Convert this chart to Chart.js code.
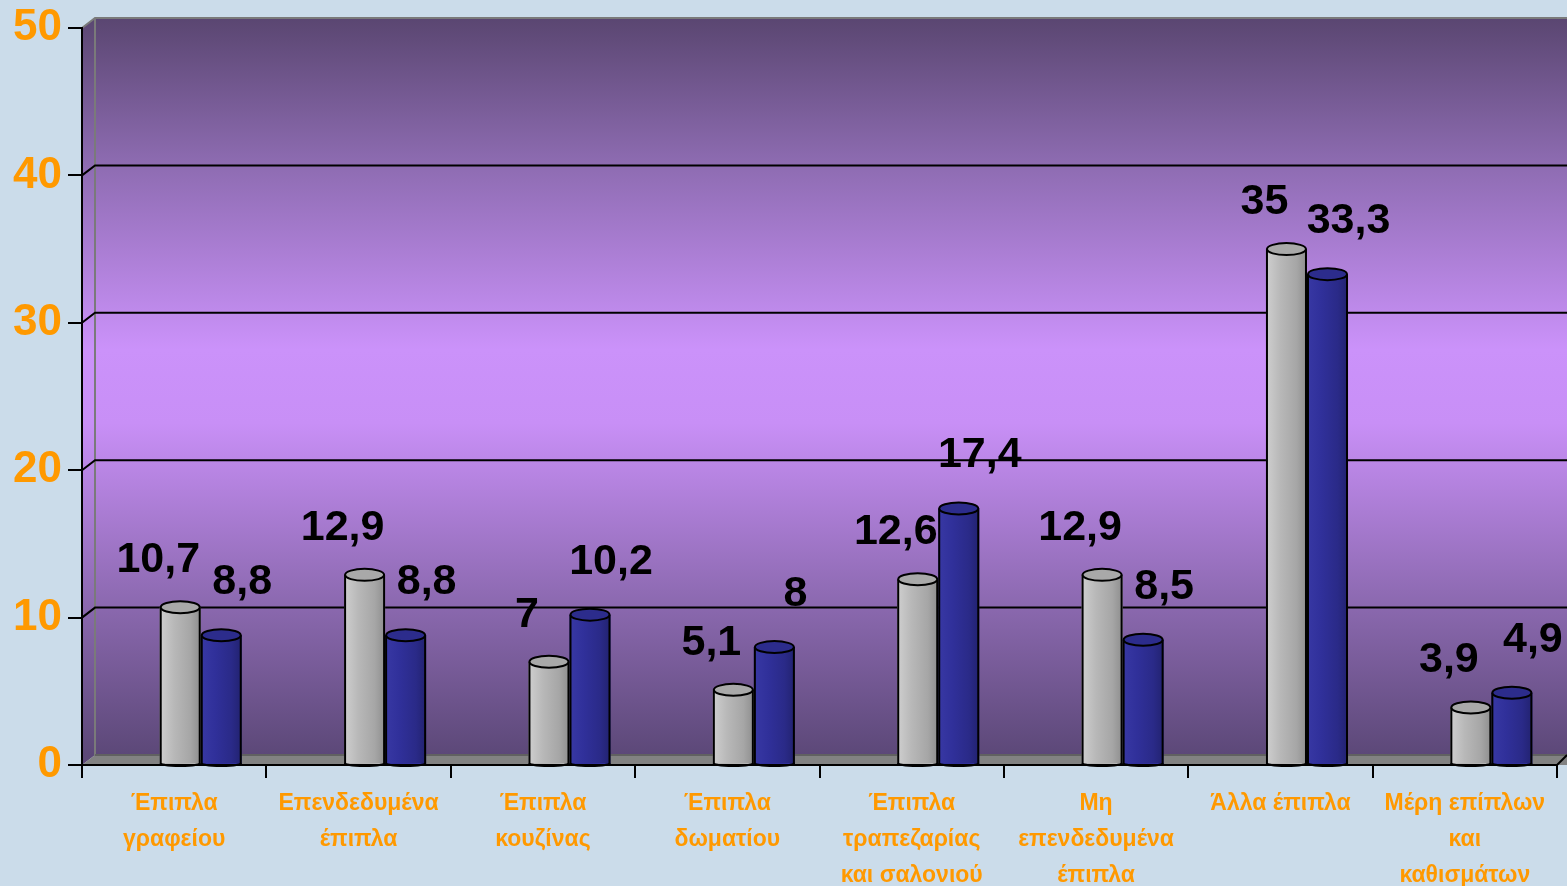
<!DOCTYPE html>
<html>
<head>
<meta charset="utf-8">
<script src="https://cdn.jsdelivr.net/npm/chart.js@4.4.1/dist/chart.umd.min.js"></script>
<style>
  html, body { margin: 0; padding: 0; background: #cbdcea; }
  #wrap { width: 1567px; height: 886px; }
</style>
</head>
<body>
<div id="wrap"><canvas id="c" width="1567" height="886"></canvas></div>
<script>
const categories = [
  ["Έπιπλα", "γραφείου"],
  ["Επενδεδυμένα", "έπιπλα"],
  ["Έπιπλα", "κουζίνας"],
  ["Έπιπλα", "δωματίου"],
  ["Έπιπλα", "τραπεζαρίας", "και σαλονιού"],
  ["Μη", "επενδεδυμένα", "έπιπλα"],
  ["Άλλα έπιπλα"],
  ["Μέρη επίπλων", "και", "καθισμάτων"]
];
const seriesGray = [10.7, 12.9, 7, 5.1, 12.6, 12.9, 35, 3.9];
const seriesBlue = [8.8, 8.8, 10.2, 8, 17.4, 8.5, 33.3, 4.9];
const yTicks = [0, 10, 20, 30, 40, 50];

const DEPTH_X = 13, DEPTH_Y = 10;

function fmt(v) { return String(v).replace('.', ','); }

const wallPlugin = {
  id: 'walls',
  beforeDraw(chart) {
    const ctx = chart.ctx;
    const a = chart.chartArea;
    const ys = chart.scales.y;
    const W = chart.width;
    const y0 = ys.getPixelForValue(0), yTop = ys.getPixelForValue(50);
    const grad = ctx.createLinearGradient(0, yTop - DEPTH_Y, 0, y0 - DEPTH_Y);
    grad.addColorStop(0, '#5a4671');
    grad.addColorStop(0.2, '#8e6cb2');
    grad.addColorStop(0.45, '#cb92fa');
    grad.addColorStop(0.55, '#c88ff6');
    grad.addColorStop(0.8, '#8a68ae');
    grad.addColorStop(1, '#5c4878');
    ctx.save();
    ctx.fillStyle = grad;
    ctx.fillRect(a.left + DEPTH_X, yTop - DEPTH_Y, W - a.left - DEPTH_X, y0 - yTop);
    ctx.beginPath();
    ctx.moveTo(a.left, yTop);
    ctx.lineTo(a.left + DEPTH_X, yTop - DEPTH_Y);
    ctx.lineTo(a.left + DEPTH_X, y0 - DEPTH_Y);
    ctx.lineTo(a.left, y0);
    ctx.closePath();
    ctx.fill();
    ctx.beginPath();
    ctx.moveTo(a.left, y0);
    ctx.lineTo(a.left + DEPTH_X, y0 - DEPTH_Y);
    ctx.lineTo(W, y0 - DEPTH_Y);
    ctx.lineTo(W, y0 - DEPTH_Y + (W - a.right));
    ctx.lineTo(a.right, y0);
    ctx.closePath();
    ctx.fillStyle = '#828282';
    ctx.fill();
    ctx.strokeStyle = '#7a7a7a';
    ctx.lineWidth = 2;
    ctx.beginPath();
    ctx.moveTo(a.left, yTop);
    ctx.lineTo(a.left + DEPTH_X, yTop - DEPTH_Y);
    ctx.lineTo(W, yTop - DEPTH_Y);
    ctx.moveTo(a.left + DEPTH_X, yTop - DEPTH_Y);
    ctx.lineTo(a.left + DEPTH_X, y0 - DEPTH_Y);
    ctx.lineTo(W, y0 - DEPTH_Y);
    ctx.stroke();
    ctx.strokeStyle = '#5a5a5a';
    ctx.lineWidth = 1.5;
    ctx.beginPath();
    ctx.moveTo(a.left + DEPTH_X, y0 - DEPTH_Y);
    ctx.lineTo(W, y0 - DEPTH_Y);
    ctx.stroke();
    ctx.strokeStyle = '#000';
    ctx.lineWidth = 2;
    yTicks.forEach(v => {
      if (v === 0 || v === 50) return;
      const y = ys.getPixelForValue(v);
      ctx.beginPath();
      ctx.moveTo(a.left, y);
      ctx.lineTo(a.left + DEPTH_X, y - DEPTH_Y);
      ctx.lineTo(W, y - DEPTH_Y);
      ctx.stroke();
    });
    ctx.lineWidth = 2;
    ctx.beginPath();
    ctx.moveTo(a.right, y0);
    ctx.lineTo(W, y0 - (W - a.right));
    ctx.stroke();
    ctx.restore();
  }
};

let shiftX = 0;
const barPlugin = {
  id: 'bars3d',
  beforeDatasetsDraw(chart) {
    const xs = chart.scales.x;
    const catW = (xs.right - xs.left) / categories.length;
    shiftX = catW * 0.144;
    chart.ctx.save();
    chart.ctx.translate(shiftX, 0);
  },
  afterDatasetsDraw(chart) {
    const ctx = chart.ctx;
    const palettes = [
      { stops: ['#cfcfcf', '#b8b8b8', '#a6a6a6', '#8e8e8e'], cap: '#a9a9a9', dx: -22, dy: 47 },
      { stops: ['#3838a4', '#30309a', '#2a2a88', '#222270'], cap: '#2c2c8c', dx: 21, dy: 53 }
    ];
    chart.data.datasets.forEach((ds, di) => {
      const meta = chart.getDatasetMeta(di);
      const p = palettes[di];
      meta.data.forEach((bar, i) => {
        const { x, y, base, width } = bar.getProps(['x', 'y', 'base', 'width'], true);
        const l = x - width / 2, r = x + width / 2;
        const g = ctx.createLinearGradient(l, 0, r, 0);
        g.addColorStop(0, p.stops[0]);
        g.addColorStop(0.35, p.stops[1]);
        g.addColorStop(0.75, p.stops[2]);
        g.addColorStop(1, p.stops[3]);
        ctx.fillStyle = g;
        ctx.fillRect(l + 1, y, width - 2, base - y - 1);
        ctx.strokeStyle = '#000';
        ctx.lineWidth = 2;
        ctx.beginPath();
        ctx.moveTo(l + 1, y);
        ctx.lineTo(l + 1, base);
        ctx.moveTo(r - 1, y);
        ctx.lineTo(r - 1, base);
        ctx.stroke();
        ctx.beginPath();
        ctx.ellipse(x, base - 1, width / 2 - 1, 3, 0, 0, Math.PI);
        ctx.stroke();
        ctx.beginPath();
        ctx.ellipse(x, y, width / 2 - 1, 6, 0, 0, Math.PI * 2);
        ctx.fillStyle = p.cap;
        ctx.fill();
        ctx.stroke();
        ctx.fillStyle = '#000';
        ctx.font = 'bold 43px "Liberation Sans", Arial, sans-serif';
        ctx.textAlign = 'center';
        ctx.textBaseline = 'middle';
        ctx.fillText(fmt(ds.data[i]), x + p.dx, y - p.dy);
      });
    });
    ctx.restore();
  }
};

new Chart(document.getElementById('c'), {
  type: 'bar',
  data: {
    labels: categories,
    datasets: [
      { label: 'A', data: seriesGray, backgroundColor: '#b4b4b4', borderWidth: 0 },
      { label: 'B', data: seriesBlue, backgroundColor: '#30309a', borderWidth: 0 }
    ]
  },
  options: {
    responsive: false,
    animation: false,
    events: [],
    categoryPercentage: 0.445,
    barPercentage: 1,
    layout: { padding: { top: 25, right: 10, left: 0, bottom: 0 } },
    plugins: { legend: { display: false }, tooltip: { enabled: false } },
    scales: {
      x: {
        afterFit(s) { s.height = 121; },
        grid: { drawOnChartArea: false, color: '#000', lineWidth: 2, tickLength: 13, offset: true },
        border: { display: true, color: '#000', width: 2 },
        ticks: {
          color: '#ff9900',
          padding: 8,
          maxRotation: 0,
          autoSkip: false,
          font: { family: '"Liberation Sans", Arial, sans-serif', weight: 'bold', size: 23, lineHeight: 1.565 }
        }
      },
      y: {
        min: 0, max: 50,
        afterFit(s) { s.width = 82; },
        afterBuildTicks(s) { s.ticks = yTicks.map(v => ({ value: v })); },
        grid: { drawOnChartArea: false, color: '#000', lineWidth: 2, tickLength: 14 },
        border: { display: true, color: '#000', width: 2 },
        ticks: {
          color: '#ff9900',
          padding: 6,
          font: { family: '"Liberation Sans", Arial, sans-serif', weight: 'bold', size: 44, lineHeight: 1 }
        }
      }
    }
  },
  plugins: [wallPlugin, barPlugin]
});
</script>
</body>
</html>
